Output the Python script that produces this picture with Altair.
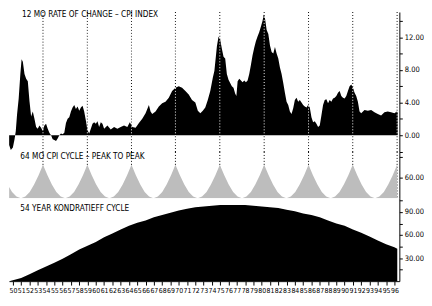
import altair as alt
import pandas as pd

# ---------------- data ----------------
cpi_years = [1949.55, 1949.75, 1950.0, 1950.2, 1950.35, 1950.5, 1950.7, 1950.9, 1951.05, 1951.2,
             1951.4, 1951.6, 1951.8, 1952.0, 1952.2, 1952.4, 1952.6, 1952.8, 1953.0, 1953.2,
             1953.4, 1953.6, 1953.8, 1954.0, 1954.2, 1954.4, 1954.6, 1954.8, 1955.0, 1955.2,
             1955.4, 1955.6, 1955.8, 1956.0, 1956.2, 1956.4, 1956.6, 1956.8, 1957.0, 1957.2,
             1957.4, 1957.6, 1957.8, 1958.0, 1958.2, 1958.4, 1958.6, 1958.8, 1959.0, 1959.2,
             1959.4, 1959.6, 1959.8, 1960.0, 1960.2, 1960.4, 1960.6, 1960.8, 1961.0, 1961.4,
             1961.8, 1962.2, 1962.6, 1963.0, 1963.4, 1963.8, 1964.1, 1964.4, 1964.8, 1965.2,
             1965.6, 1966.0, 1966.4, 1966.6, 1966.8, 1967.2, 1967.6, 1968.0, 1968.4, 1968.8,
             1969.2, 1969.6, 1970.0, 1970.4, 1970.8, 1971.2, 1971.6, 1972.0, 1972.3, 1972.6,
             1972.9, 1973.2, 1973.5, 1973.8, 1974.1, 1974.3, 1974.6, 1974.8, 1975.0, 1975.2,
             1975.4, 1975.6, 1975.8, 1976.0, 1976.2, 1976.4, 1976.6, 1976.8, 1976.95, 1977.1,
             1977.3, 1977.5, 1977.7, 1977.9, 1978.1, 1978.3, 1978.5, 1978.7, 1978.9, 1979.1,
             1979.3, 1979.5, 1979.7, 1979.9, 1980.1, 1980.25, 1980.4, 1980.6, 1980.8, 1981.0,
             1981.2, 1981.4, 1981.6, 1981.8, 1982.0, 1982.2, 1982.4, 1982.6, 1982.8, 1983.0,
             1983.2, 1983.4, 1983.6, 1983.8, 1984.0, 1984.2, 1984.4, 1984.6, 1984.8, 1985.0,
             1985.2, 1985.4, 1985.6, 1985.8, 1986.0, 1986.2, 1986.4, 1986.6, 1986.8, 1987.0,
             1987.2, 1987.4, 1987.6, 1987.8, 1988.0, 1988.2, 1988.4, 1988.6, 1988.8, 1989.0,
             1989.2, 1989.4, 1989.6, 1989.8, 1990.0, 1990.2, 1990.4, 1990.6, 1990.8, 1991.0,
             1991.2, 1991.4, 1991.6, 1991.8, 1992.0, 1992.4, 1992.8, 1993.2, 1993.6, 1994.0,
             1994.4, 1994.8, 1995.2, 1995.6, 1996.0, 1996.3, 1996.4]
cpi_values = [-1.2, -1.8, -1.5, -0.5, 0.5, 2.5, 4.5, 7.5, 9.3, 9.0,
              7.5, 6.9, 6.6, 4.2, 2.3, 2.9, 2.0, 1.0, 0.8, 1.2,
              0.9, 0.5, 1.2, 1.4, 0.8, 0.3, 0.0, -0.5, -0.6, -0.7,
              -0.4, 0.0, 0.2, 0.1, 0.3, 1.5, 2.0, 2.2, 2.9, 3.4,
              3.7, 3.2, 3.5, 3.0, 3.4, 3.6, 2.9, 1.8, 0.6, 0.2,
              0.8, 1.4, 1.6, 1.4, 1.7, 1.0, 1.6, 1.4, 0.8, 1.2,
              0.7, 1.0, 0.8, 1.0, 1.2, 1.0, 1.6, 1.0, 0.9, 1.5,
              2.0, 2.7, 3.7, 2.9, 2.6, 2.9, 3.5, 3.9, 4.1, 4.6,
              5.4, 5.8, 6.0, 5.8, 5.4, 5.0, 4.3, 4.0, 3.0, 2.7,
              3.0, 3.4, 4.3, 5.4, 7.0, 7.9, 10.9, 12.1, 11.7, 10.6,
              9.6, 9.4, 7.5, 6.8, 6.4, 6.0, 5.8, 5.1, 4.8, 6.6,
              6.9, 6.7, 6.5, 6.7, 6.5, 6.7, 7.5, 8.6, 9.8, 10.7,
              11.5, 12.1, 12.6, 13.3, 14.0, 14.8, 14.3, 12.9, 12.4, 11.0,
              10.2, 10.0, 10.8, 10.0, 9.4, 8.3, 7.5, 6.4, 5.2, 4.1,
              3.7, 2.9, 2.6, 3.3, 4.3, 4.6, 4.1, 4.3, 4.0, 3.7,
              3.5, 3.4, 3.7, 3.4, 2.2, 1.6, 1.7, 1.4, 1.0, 1.2,
              2.4, 3.7, 4.3, 4.4, 3.9, 4.3, 4.1, 4.5, 4.6, 4.8,
              5.2, 5.4, 4.8, 4.6, 4.5, 4.8, 5.4, 6.0, 6.2, 5.8,
              5.2, 4.8, 4.1, 2.9, 2.7, 3.1, 3.0, 3.1, 2.8, 2.6,
              2.4, 2.8, 2.9, 2.8, 2.7, 2.9, 2.8]

cycle_years = [1949.55, 1949.90, 1950.43, 1950.97, 1951.50, 1952.03, 1952.56, 1953.10,
               1953.63, 1954.17, 1954.70, 1955.24, 1955.77, 1956.31, 1956.84, 1957.38, 1957.91, 1958.45,
               1958.98, 1959.51, 1960.04, 1960.58, 1961.11, 1961.64, 1962.17, 1962.70, 1963.24, 1963.77,
               1964.30, 1964.83, 1965.36, 1965.89, 1966.42, 1966.95, 1967.48, 1968.01, 1968.54, 1969.07,
               1969.60, 1970.14, 1970.67, 1971.21, 1971.74, 1972.28, 1972.81, 1973.35, 1973.88, 1974.42,
               1974.95, 1975.49, 1976.02, 1976.56, 1977.09, 1977.63, 1978.16, 1978.70, 1979.23, 1979.77,
               1980.30, 1980.84, 1981.37, 1981.91, 1982.44, 1982.98, 1983.51, 1984.05, 1984.58, 1985.12,
               1985.65, 1986.18, 1986.72, 1987.25, 1987.78, 1988.32, 1988.85, 1989.38, 1989.91, 1990.45,
               1990.98, 1991.52, 1992.05, 1992.59, 1993.12, 1993.66, 1994.19, 1994.73, 1995.26, 1995.80,
               1996.33]
cycle_values = [33, 18, 5, 0, 5, 18, 40, 67,
                97, 67, 40, 18, 5, 0, 5, 18, 40, 67,
                97, 67, 40, 18, 5, 0, 5, 18, 40, 67,
                97, 67, 40, 18, 5, 0, 5, 18, 40, 67,
                97, 67, 40, 18, 5, 0, 5, 18, 40, 67,
                97, 67, 40, 18, 5, 0, 5, 18, 40, 67,
                97, 67, 40, 18, 5, 0, 5, 18, 40, 67,
                97, 67, 40, 18, 5, 0, 5, 18, 40, 67,
                97, 67, 40, 18, 5, 0, 5, 18, 40, 67,
                97]

kond_years = [1949.55, 1950, 1951, 1952, 1953, 1954, 1955, 1956, 1957, 1958, 1959,
              1960, 1961, 1962, 1963, 1964, 1965, 1966, 1967, 1968, 1969,
              1970, 1971, 1972, 1973, 1974, 1975, 1976, 1977, 1978, 1979,
              1980, 1981, 1982, 1983, 1984, 1985, 1986, 1987, 1988, 1989,
              1990, 1991, 1992, 1993, 1994, 1995, 1996, 1996.35]
kond_values = [0, 1, 4, 9, 14, 19, 24, 29, 35, 41, 46,
               51, 57, 62, 67, 72, 76, 79, 83, 86, 89,
               92, 94, 96, 97, 98, 99, 99, 99, 99, 98,
               97, 96, 95, 93, 91, 88, 86, 83, 79, 75,
               72, 67, 63, 58, 53, 48, 44, 42]

peak_years = [1953.63, 1958.98, 1964.30, 1969.60, 1974.95, 1980.30, 1985.65, 1990.98, 1996.33]
axis_years = list(range(1950, 1997))

panel_titles = ["12 MO RATE OF CHANGE \u2013 CPI INDEX",
                "64 MO CPI CYCLE \u2013 PEAK TO PEAK",
                "54 YEAR KONDRATIEFF CYCLE"]
title_years = [1951.1, 1950.9, 1950.9]
title_values = [14.7, 120, 93.6]

# ---------------- chart ----------------
FONT = "DejaVu Sans Condensed, Liberation Sans Narrow, sans-serif"
W = 396
X_DOMAIN = [1949.53, 1996.6]
xs = alt.Scale(domain=X_DOMAIN, nice=False, zero=False)

cpi_df = pd.DataFrame({"year": cpi_years, "value": cpi_values})
cyc_df = pd.DataFrame({"year": cycle_years, "value": cycle_values})
kon_df = pd.DataFrame({"year": kond_years, "value": kond_values})
peaks_df = pd.DataFrame({"year": peak_years})


def right_axis(values, expr):
    return alt.Axis(orient="right", values=values, labelExpr=expr, tickSize=3,
                    domainColor="black", tickColor="black", labelColor="black",
                    labelFont=FONT, labelFontSize=7.6, labelPadding=2, grid=False,
                    title=None, domainWidth=1, tickWidth=1, labelFlush=False)


def title_layer(i, yscale, yaxis, xaxis=None):
    df = pd.DataFrame({"year": [title_years[i]], "value": [title_values[i]],
                       "label": [panel_titles[i]]})
    return alt.Chart(df).mark_text(align="left", baseline="middle", font=FONT,
                                   fontSize=8.3, color="black").encode(
        x=alt.X("year:Q", scale=xs, axis=xaxis),
        y=alt.Y("value:Q", scale=yscale, axis=yaxis),
        text="label:N")


# top panel
ys1 = alt.Scale(domain=[-2.06, 15.09], nice=False, zero=False)
ax1 = right_axis([-2, 0, 2, 4, 6, 8, 10, 12, 14],
                 "datum.value >= 0 && datum.value % 4 == 0 ? format(datum.value, '.2f') : ''")
rules_black = alt.Chart(peaks_df).mark_rule(color="black", strokeDash=[1, 2], strokeWidth=1).encode(
    x=alt.X("year:Q", scale=xs, axis=None))
rules_white = alt.Chart(peaks_df).mark_rule(color="white", strokeDash=[1, 2], strokeDashOffset=1,
                                            strokeWidth=1).encode(
    x=alt.X("year:Q", scale=xs, axis=None))
cpi_area = alt.Chart(cpi_df).mark_area(color="black", clip=True, interpolate="linear").encode(
    x=alt.X("year:Q", scale=xs, axis=None),
    y=alt.Y("value:Q", scale=ys1, axis=ax1),
    y2=alt.datum(0))
top = alt.layer(rules_black, cpi_area, rules_white, title_layer(0, ys1, ax1)).properties(
    width=W, height=142)

# middle panel
ys2 = alt.Scale(domain=[0, 134], nice=False, zero=False)
ax2 = right_axis([60, 120], "datum.value == 60 ? format(datum.value, '.2f') : ''")
cyc_area = alt.Chart(cyc_df).mark_area(color="#bdbdbd", clip=True).encode(
    x=alt.X("year:Q", scale=xs, axis=None),
    y=alt.Y("value:Q", scale=ys2, axis=ax2),
    y2=alt.datum(0))
mid = alt.layer(rules_black, cyc_area, title_layer(1, ys2, ax2)).properties(width=W, height=47)

# bottom panel
ys3 = alt.Scale(domain=[0, 107.7], nice=False, zero=False)
ax3 = right_axis([15, 30, 45, 60, 75, 90, 105],
                 "datum.value % 30 == 0 ? format(datum.value, '.2f') : ''")
xaxis = alt.Axis(values=axis_years, labelExpr="substring(toString(datum.value), 2, 4)",
                 tickSize=4, labelFont=FONT, labelFontSize=7, labelPadding=2,
                 labelOverlap=False, labelFlush=False, labelAngle=0, domainColor="black",
                 tickColor="black", labelColor="black", grid=False, title=None,
                 labelBound=False)
kon_area = alt.Chart(kon_df).mark_area(color="black", clip=True).encode(
    x=alt.X("year:Q", scale=xs, axis=xaxis),
    y=alt.Y("value:Q", scale=ys3, axis=ax3),
    y2=alt.datum(0))
bot = alt.layer(kon_area, title_layer(2, ys3, ax3, xaxis)).properties(width=W, height=84)

chart = alt.vconcat(top, mid, bot, spacing=0, bounds="flush").properties(
    padding={"left": 0, "top": 0, "right": 0, "bottom": 0},
    background="white",
).configure_view(stroke=None)

chart.save("out.html", embed_options={"renderer": "svg", "actions": False})
